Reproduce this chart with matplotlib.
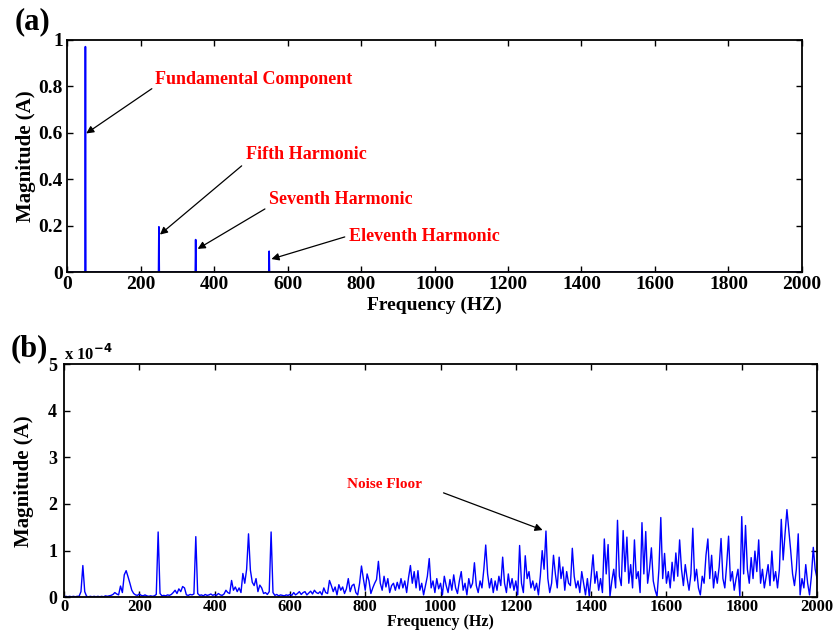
import numpy as np
import matplotlib
matplotlib.use('Agg')
import matplotlib.pyplot as plt

plt.rcParams['font.family'] = ['Liberation Serif', 'DejaVu Serif']
plt.rcParams['font.weight'] = 'bold'
plt.rcParams['axes.labelweight'] = 'bold'

# (a) harmonic spectrum: frequencies (Hz) and magnitudes (A)
harm_freq = [50, 250, 350, 550]
harm_mag = [0.97, 0.195, 0.14, 0.09]
harm_names = ['Fundamental Component', 'Fifth Harmonic', 'Seventh Harmonic', 'Eleventh Harmonic']

# (b) noise spectrum, 5 Hz steps from 0 to 2000 Hz, magnitude in units of 1e-4 A
noise_step = 5
noise_mag_e4 = [
    # 0 - 95
    0.01, 0.02, 0.01, 0.02, 0.01, 0.02, 0.01, 0.02, 0.02, 0.12, 0.68, 0.12, 0.02, 0.01, 0.02, 0.01, 0.02, 0.01, 0.02, 0.01,
    # 100 - 195
    0.02, 0.01, 0.03, 0.02, 0.03, 0.04, 0.06, 0.10, 0.07, 0.05, 0.24, 0.10, 0.48, 0.57, 0.44, 0.30, 0.15, 0.08, 0.05, 0.04,
    # 200 - 295
    0.07, 0.04, 0.03, 0.05, 0.03, 0.02, 0.03, 0.02, 0.03, 0.06, 1.40, 0.08, 0.03, 0.04, 0.03, 0.05, 0.04, 0.06, 0.10, 0.15,
    # 300 - 395
    0.08, 0.18, 0.12, 0.23, 0.20, 0.05, 0.04, 0.06, 0.05, 0.07, 1.30, 0.08, 0.04, 0.05, 0.03, 0.06, 0.04, 0.05, 0.07, 0.04,
    # 400 - 495
    0.06, 0.04, 0.08, 0.05, 0.04, 0.07, 0.15, 0.10, 0.08, 0.36, 0.15, 0.22, 0.12, 0.20, 0.10, 0.51, 0.30, 0.60, 1.36, 0.58,
    # 500 - 595
    0.32, 0.25, 0.40, 0.12, 0.26, 0.20, 0.08, 0.10, 0.06, 0.12, 1.40, 0.10, 0.04, 0.06, 0.03, 0.05, 0.04, 0.03, 0.05, 0.04,
    # 600 - 695
    0.06, 0.04, 0.10, 0.05, 0.08, 0.12, 0.06, 0.10, 0.12, 0.05, 0.09, 0.13, 0.07, 0.15, 0.10, 0.08, 0.12, 0.05, 0.20, 0.10,
    # 700 - 795
    0.08, 0.36, 0.25, 0.12, 0.22, 0.05, 0.27, 0.15, 0.22, 0.08, 0.18, 0.40, 0.12, 0.25, 0.28, 0.10, 0.05, 0.30, 0.67, 0.40,
    # 800 - 895
    0.15, 0.50, 0.35, 0.08, 0.20, 0.30, 0.38, 0.77, 0.30, 0.15, 0.45, 0.22, 0.40, 0.10, 0.25, 0.30, 0.15, 0.32, 0.18, 0.40,
    # 900 - 995
    0.20, 0.35, 0.10, 0.42, 0.68, 0.30, 0.55, 0.20, 0.57, 0.15, 0.30, 0.05, 0.25, 0.45, 0.83, 0.20, 0.35, 0.10, 0.40, 0.18,
    # 1000 - 1095
    0.30, 0.05, 0.45, 0.25, 0.10, 0.38, 0.15, 0.48, 0.20, 0.08, 0.35, 0.55, 0.15, 0.30, 0.05, 0.40, 0.20, 0.30, 0.74, 0.25,
    # 1100 - 1195
    0.10, 0.35, 0.20, 0.60, 1.12, 0.50, 0.20, 0.40, 0.10, 0.35, 0.15, 0.45, 0.25, 0.86, 0.30, 0.10, 0.50, 0.20, 0.40, 0.15,
    # 1200 - 1295
    0.35, 0.05, 1.11, 0.30, 0.10, 0.89, 0.40, 0.55, 0.20, 0.35, 0.15, 0.30, 0.05, 0.45, 1.00, 0.60, 1.42, 0.40, 0.10, 0.30,
    # 1300 - 1395
    0.90, 0.50, 0.20, 0.86, 0.40, 0.65, 0.15, 0.55, 0.30, 0.25, 1.05, 0.45, 0.20, 0.35, 0.10, 0.55, 0.30, 0.05, 0.40, 0.02,
    # 1400 - 1495
    0.45, 0.91, 0.30, 0.55, 0.15, 0.40, 0.10, 1.25, 0.50, 1.13, 0.02, 0.35, 0.60, 0.20, 1.65, 0.45, 0.25, 1.43, 0.55, 1.29,
    # 1500 - 1595
    0.30, 0.70, 0.20, 1.23, 0.40, 0.55, 0.10, 1.60, 0.50, 1.41, 0.30, 0.60, 1.06, 0.35, 0.15, 0.02, 0.60, 1.71, 0.40, 0.94,
    # 1600 - 1695
    0.30, 0.55, 0.20, 0.75, 0.35, 0.95, 0.45, 1.23, 0.60, 0.25, 0.70, 0.40, 0.15, 0.50, 1.48, 0.35, 0.60, 0.20, 0.05, 0.45,
    # 1700 - 1795
    0.30, 0.90, 1.25, 0.40, 0.90, 0.20, 0.55, 0.30, 0.65, 1.26, 0.40, 0.20, 0.70, 1.31, 0.35, 0.55, 0.15, 0.40, 0.60, 0.03,
    # 1800 - 1895
    1.73, 0.50, 1.54, 0.60, 0.30, 0.85, 0.40, 0.99, 0.55, 1.23, 0.30, 0.60, 0.20, 0.45, 0.70, 0.25, 0.99, 0.35, 0.55, 0.20,
    # 1900 - 1995
    0.60, 1.67, 0.80, 1.36, 1.88, 1.45, 1.00, 0.50, 0.25, 0.60, 1.36, 0.05, 0.40, 0.20, 0.70, 0.30, 0.05, 0.45, 1.07, 0.60,
    # 2000
    0.40,
]

# spectrum (a) on a 1 Hz grid, zero apart from the harmonics
freq_a = np.arange(0, 2001)
mag_a = np.zeros(len(freq_a))
for f, m in zip(harm_freq, harm_mag):
    mag_a[f] = m

freq_b = np.arange(len(noise_mag_e4)) * noise_step

fig = plt.figure(figsize=(8.38, 6.3), dpi=100)
ax1 = fig.add_axes([0.080, 0.568, 0.877, 0.369])
ax2 = fig.add_axes([0.0764, 0.052, 0.8986, 0.370])

# ---- (a)
ax1.plot(freq_a, mag_a, color='blue', lw=1.2)
ax1.set_xlim(0, 2000)
ax1.set_ylim(0, 1)
ax1.set_xticks(np.arange(0, 2001, 200))
ax1.set_yticks([0, 0.2, 0.4, 0.6, 0.8, 1])
ax1.set_yticklabels(['0', '0.2', '0.4', '0.6', '0.8', '1'])
ax1.set_xlabel('Frequency (HZ)', fontsize=14, va='center')
ax1.xaxis.set_label_coords(0.5, -0.144)
ax1.set_ylabel('Magnitude (A)', fontsize=15, labelpad=2)

# annotations: text position, arrow tail and tip (data coords)
text_pos = [(240, 0.83), (487, 0.507), (549, 0.314), (767, 0.155)]
arrow_tail = [(237, 0.796), (481, 0.465), (545, 0.278), (763, 0.155)]
arrow_tip = [(46, 0.59), (247, 0.154), (349, 0.094), (549, 0.053)]
for name, tp, tail, tip in zip(harm_names, text_pos, arrow_tail, arrow_tip):
    ax1.text(tp[0], tp[1], name, color='red', fontsize=13, fontweight='bold',
             ha='left', va='center')
    ax1.annotate('', xy=tip, xytext=tail,
                 arrowprops=dict(arrowstyle='-|>', color='black', lw=0.9,
                                 mutation_scale=11))

# ---- (b)
ax2.plot(freq_b, noise_mag_e4, color='blue', lw=1.0)
ax2.set_xlim(0, 2000)
ax2.set_ylim(0, 5)
ax2.set_xticks(np.arange(0, 2001, 200))
ax2.set_yticks(np.arange(0, 6, 1))
ax2.set_xlabel('Frequency (Hz)', fontsize=11.5, va='center')
ax2.xaxis.set_label_coords(0.5, -0.107)
ax2.set_ylabel('Magnitude (A)', fontsize=15, labelpad=10)
ax2.text(0.0, 1.0, r'x 10$^{-4}$', transform=ax2.transAxes, fontsize=12,
         fontweight='bold', ha='left', va='bottom')
ax2.text(751, 2.41, 'Noise Floor', color='red', fontsize=11, fontweight='bold',
         ha='left', va='center')
ax2.annotate('', xy=(1278, 1.42), xytext=(1001, 2.26),
             arrowprops=dict(arrowstyle='-|>', color='black', lw=0.9,
                             mutation_scale=11))

ax1.tick_params(direction='in', top=True, right=True, length=4, width=1,
                labelsize=14, pad=3)
ax2.tick_params(axis='x', direction='in', top=True, length=4, width=1,
                labelsize=12, pad=1)
ax2.tick_params(axis='y', direction='in', right=True, length=4, width=1,
                labelsize=13, pad=5)
for ax in (ax1, ax2):
    for lab in ax.get_xticklabels() + ax.get_yticklabels():
        lab.set_fontweight('bold')
    for s in ax.spines.values():
        s.set_linewidth(1.3)

fig.text(0.017, 0.965, '(a)', fontsize=22, fontweight='bold', ha='left', va='center')
fig.text(0.013, 0.447, '(b)', fontsize=22, fontweight='bold', ha='left', va='center')

fig.savefig('out.png', dpi=100)
